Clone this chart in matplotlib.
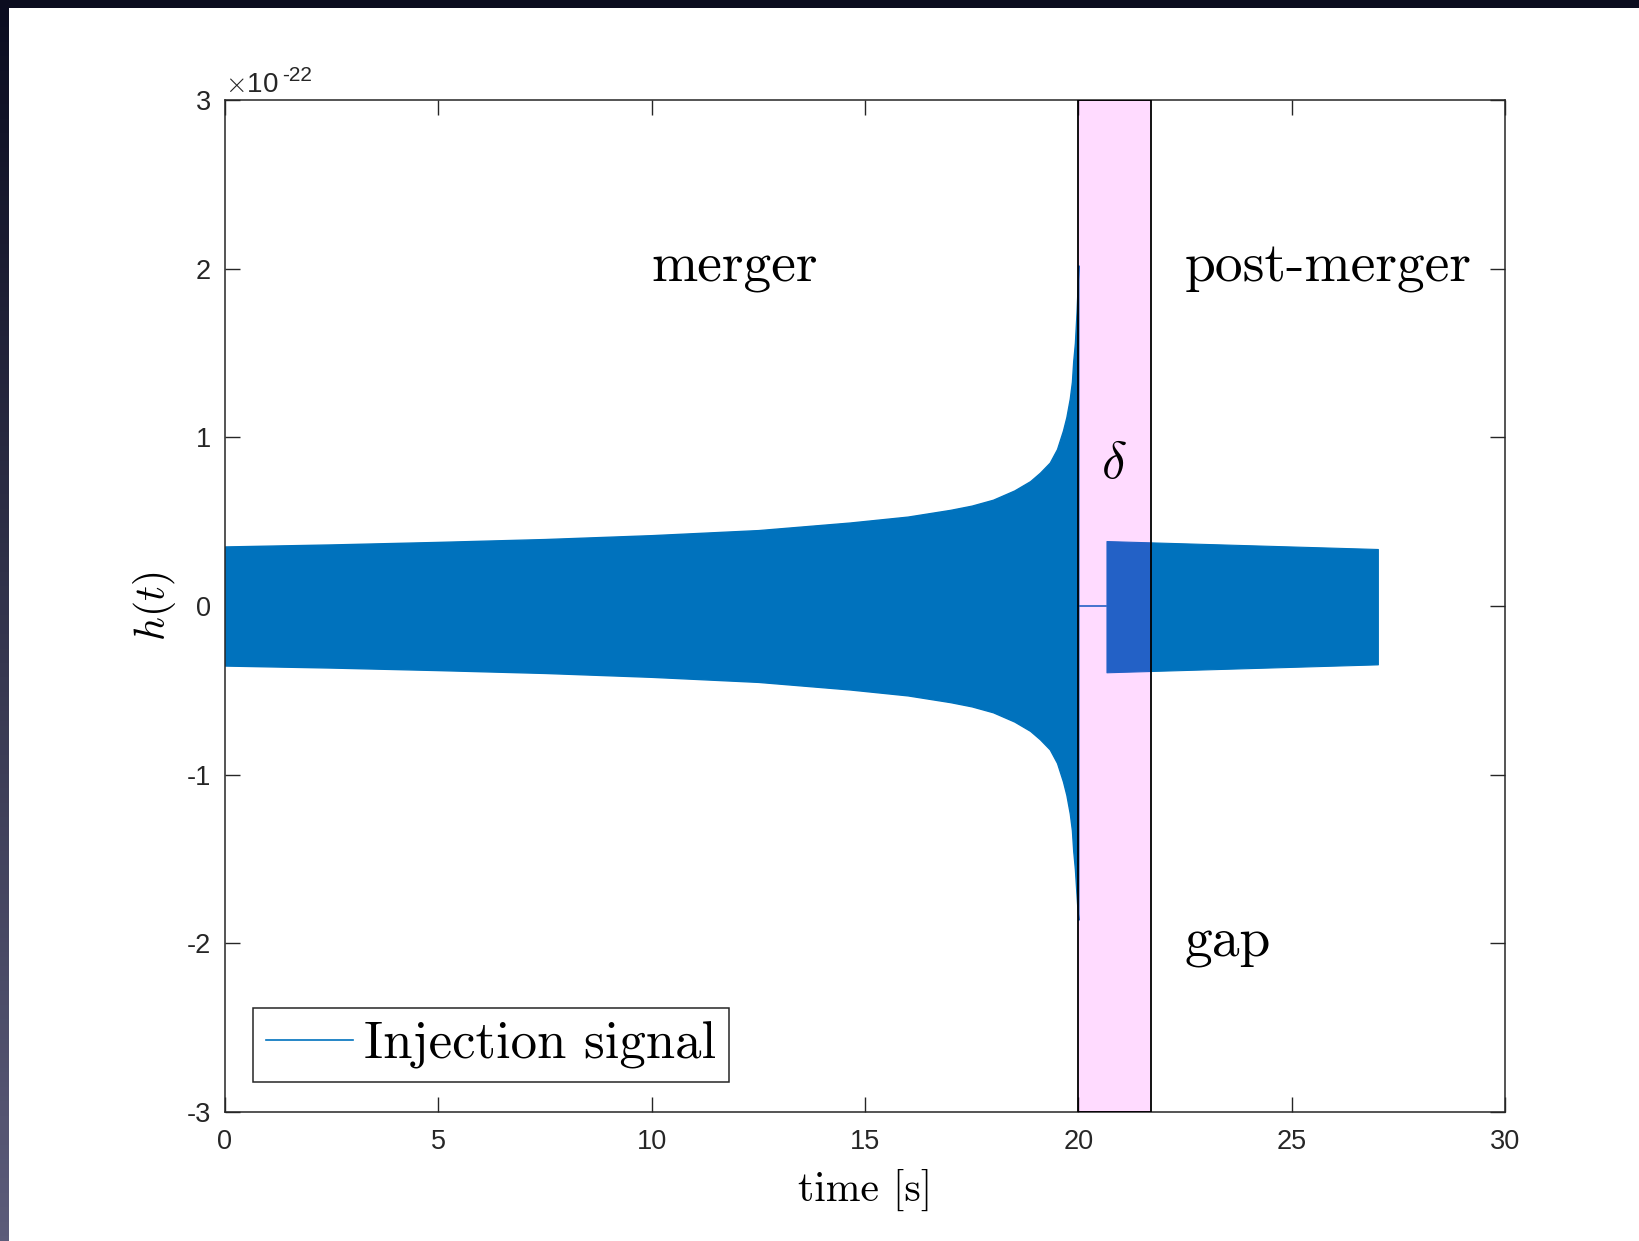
import matplotlib
matplotlib.use("Agg")
import matplotlib.pyplot as plt
from matplotlib.patches import Rectangle
from matplotlib.lines import Line2D
import numpy as np

# envelope of the inspiral (merger) signal, in units of 1e-22
merger_t = [0.0, 2.5, 5.0, 7.5, 10.0, 12.5, 14.65, 16.0, 16.5, 17.0, 17.5, 18.0,
            18.5, 18.87, 19.1, 19.33, 19.5, 19.64, 19.72, 19.8, 19.85, 19.88,
            19.92, 19.96, 19.98, 20.0]
merger_upper = [0.353, 0.365, 0.38, 0.397, 0.42, 0.45, 0.495, 0.53, 0.55, 0.57,
                0.595, 0.63, 0.685, 0.74, 0.79, 0.85, 0.93, 1.04, 1.12, 1.23,
                1.33, 1.45, 1.56, 1.75, 1.88, 2.02]
merger_lower = [-0.353, -0.365, -0.38, -0.397, -0.42, -0.45, -0.495, -0.53, -0.55,
                -0.57, -0.595, -0.63, -0.685, -0.74, -0.79, -0.85, -0.93, -1.04,
                -1.12, -1.23, -1.33, -1.45, -1.56, -1.72, -1.8, -1.86]

# flat part between end of merger and start of post-merger
gap_t = [20.0, 20.66]
gap_h = [0.0, 0.0]

# envelope of post-merger signal
post_t = [20.66, 27.02]
post_upper = [0.385, 0.338]
post_lower = [-0.393, -0.346]

# shaded delta window
band = (20.0, 21.7)

xticks = [0, 5, 10, 15, 20, 25, 30]
yticks = [-3, -2, -1, 0, 1, 2, 3]

blue = "#0072BD"
axis_col = "#262626"

plt.rcParams["mathtext.fontset"] = "cm"
plt.rcParams["axes.unicode_minus"] = False
plt.rcParams["font.family"] = ["Liberation Sans", "DejaVu Sans"]

fig = plt.figure(figsize=(16.39, 12.41), dpi=100)
fig.patch.set_facecolor("white")

# dark screenshot frame: top bar and left strip with gradient
top = fig.add_axes([0, 1 - 8 / 1241, 1, 8 / 1241])
top.set_facecolor("#0b0d1f")
top.set_xticks([])
top.set_yticks([])
for s in top.spines.values():
    s.set_visible(False)
strip = fig.add_axes([0, 0, 9 / 1639, 1 - 8 / 1241])
grad = np.linspace(0, 1, 256).reshape(-1, 1)
strip.imshow(grad, aspect="auto", cmap=matplotlib.colors.LinearSegmentedColormap.from_list(
    "frame", ["#0b0d20", "#5c5c7a"]), origin="upper")
strip.axis("off")

ax = fig.add_axes([225 / 1639, 1 - 1112 / 1241, 1280 / 1639, 1012 / 1241])

# the oscillation is too dense to resolve, so it shows as a filled envelope
ax.fill_between(merger_t, merger_lower, merger_upper, facecolor=blue, edgecolor=blue,
                lw=1.0, zorder=2)
ax.plot(gap_t, gap_h, color=blue, lw=1.2, zorder=2)
ax.fill_between(post_t, post_lower, post_upper, facecolor=blue, edgecolor=blue,
                lw=0.8, zorder=2)

ax.add_patch(Rectangle((band[0], -3), band[1] - band[0], 6, facecolor=(1, 0, 1, 0.14),
                       edgecolor="black", lw=1.3, zorder=3))

ax.set_xlim(0, 30)
ax.set_ylim(-3, 3)
ax.set_xticks(xticks)
ax.set_yticks(yticks)
ax.tick_params(direction="in", length=11, width=1, top=True, right=True,
               labelsize=19.5, colors=axis_col)
ax.tick_params(axis="x", pad=12)
ax.tick_params(axis="y", pad=10)
for s in ax.spines.values():
    s.set_color(axis_col)
    s.set_linewidth(1.1)

# MATLAB style exponent label
ax.text(0.0, 1.008, r"$\times$10", transform=ax.transAxes, fontsize=20, color=axis_col,
        ha="left", va="baseline")
ax.text(0.0445, 1.019, "-22", transform=ax.transAxes, fontsize=15, color=axis_col,
        ha="left", va="baseline")

serif = "cmr10"
ax.text(10.0, 2.0, "merger", fontsize=40, family=serif, ha="left", va="center", zorder=4)
ax.text(22.5, 2.0, "post-merger", fontsize=40, family=serif, ha="left", va="center", zorder=4)
ax.text(22.5, -2.0, "gap", fontsize=40, family=serif, ha="left", va="center", zorder=4)
ax.text(20.52, 0.84, r"$\delta$", fontsize=38, ha="left", va="center", zorder=4)

ax.set_xlabel("time [s]", fontsize=30, family=serif, labelpad=10)
ax.set_ylabel(r"$h(t)$", fontsize=30, labelpad=6)

handle = Line2D([], [], color=blue, lw=1.2)
leg = ax.legend([handle], ["Injection signal"], loc="lower left",
                bbox_to_anchor=(0.022, 0.0296), prop={"family": serif, "size": 38},
                fancybox=False, edgecolor=axis_col, framealpha=1,
                handlelength=1.65, handletextpad=0.2, borderpad=0.25, borderaxespad=0)
leg.get_frame().set_linewidth(1.1)

fig.savefig("out.png", dpi=100, facecolor=fig.get_facecolor())
